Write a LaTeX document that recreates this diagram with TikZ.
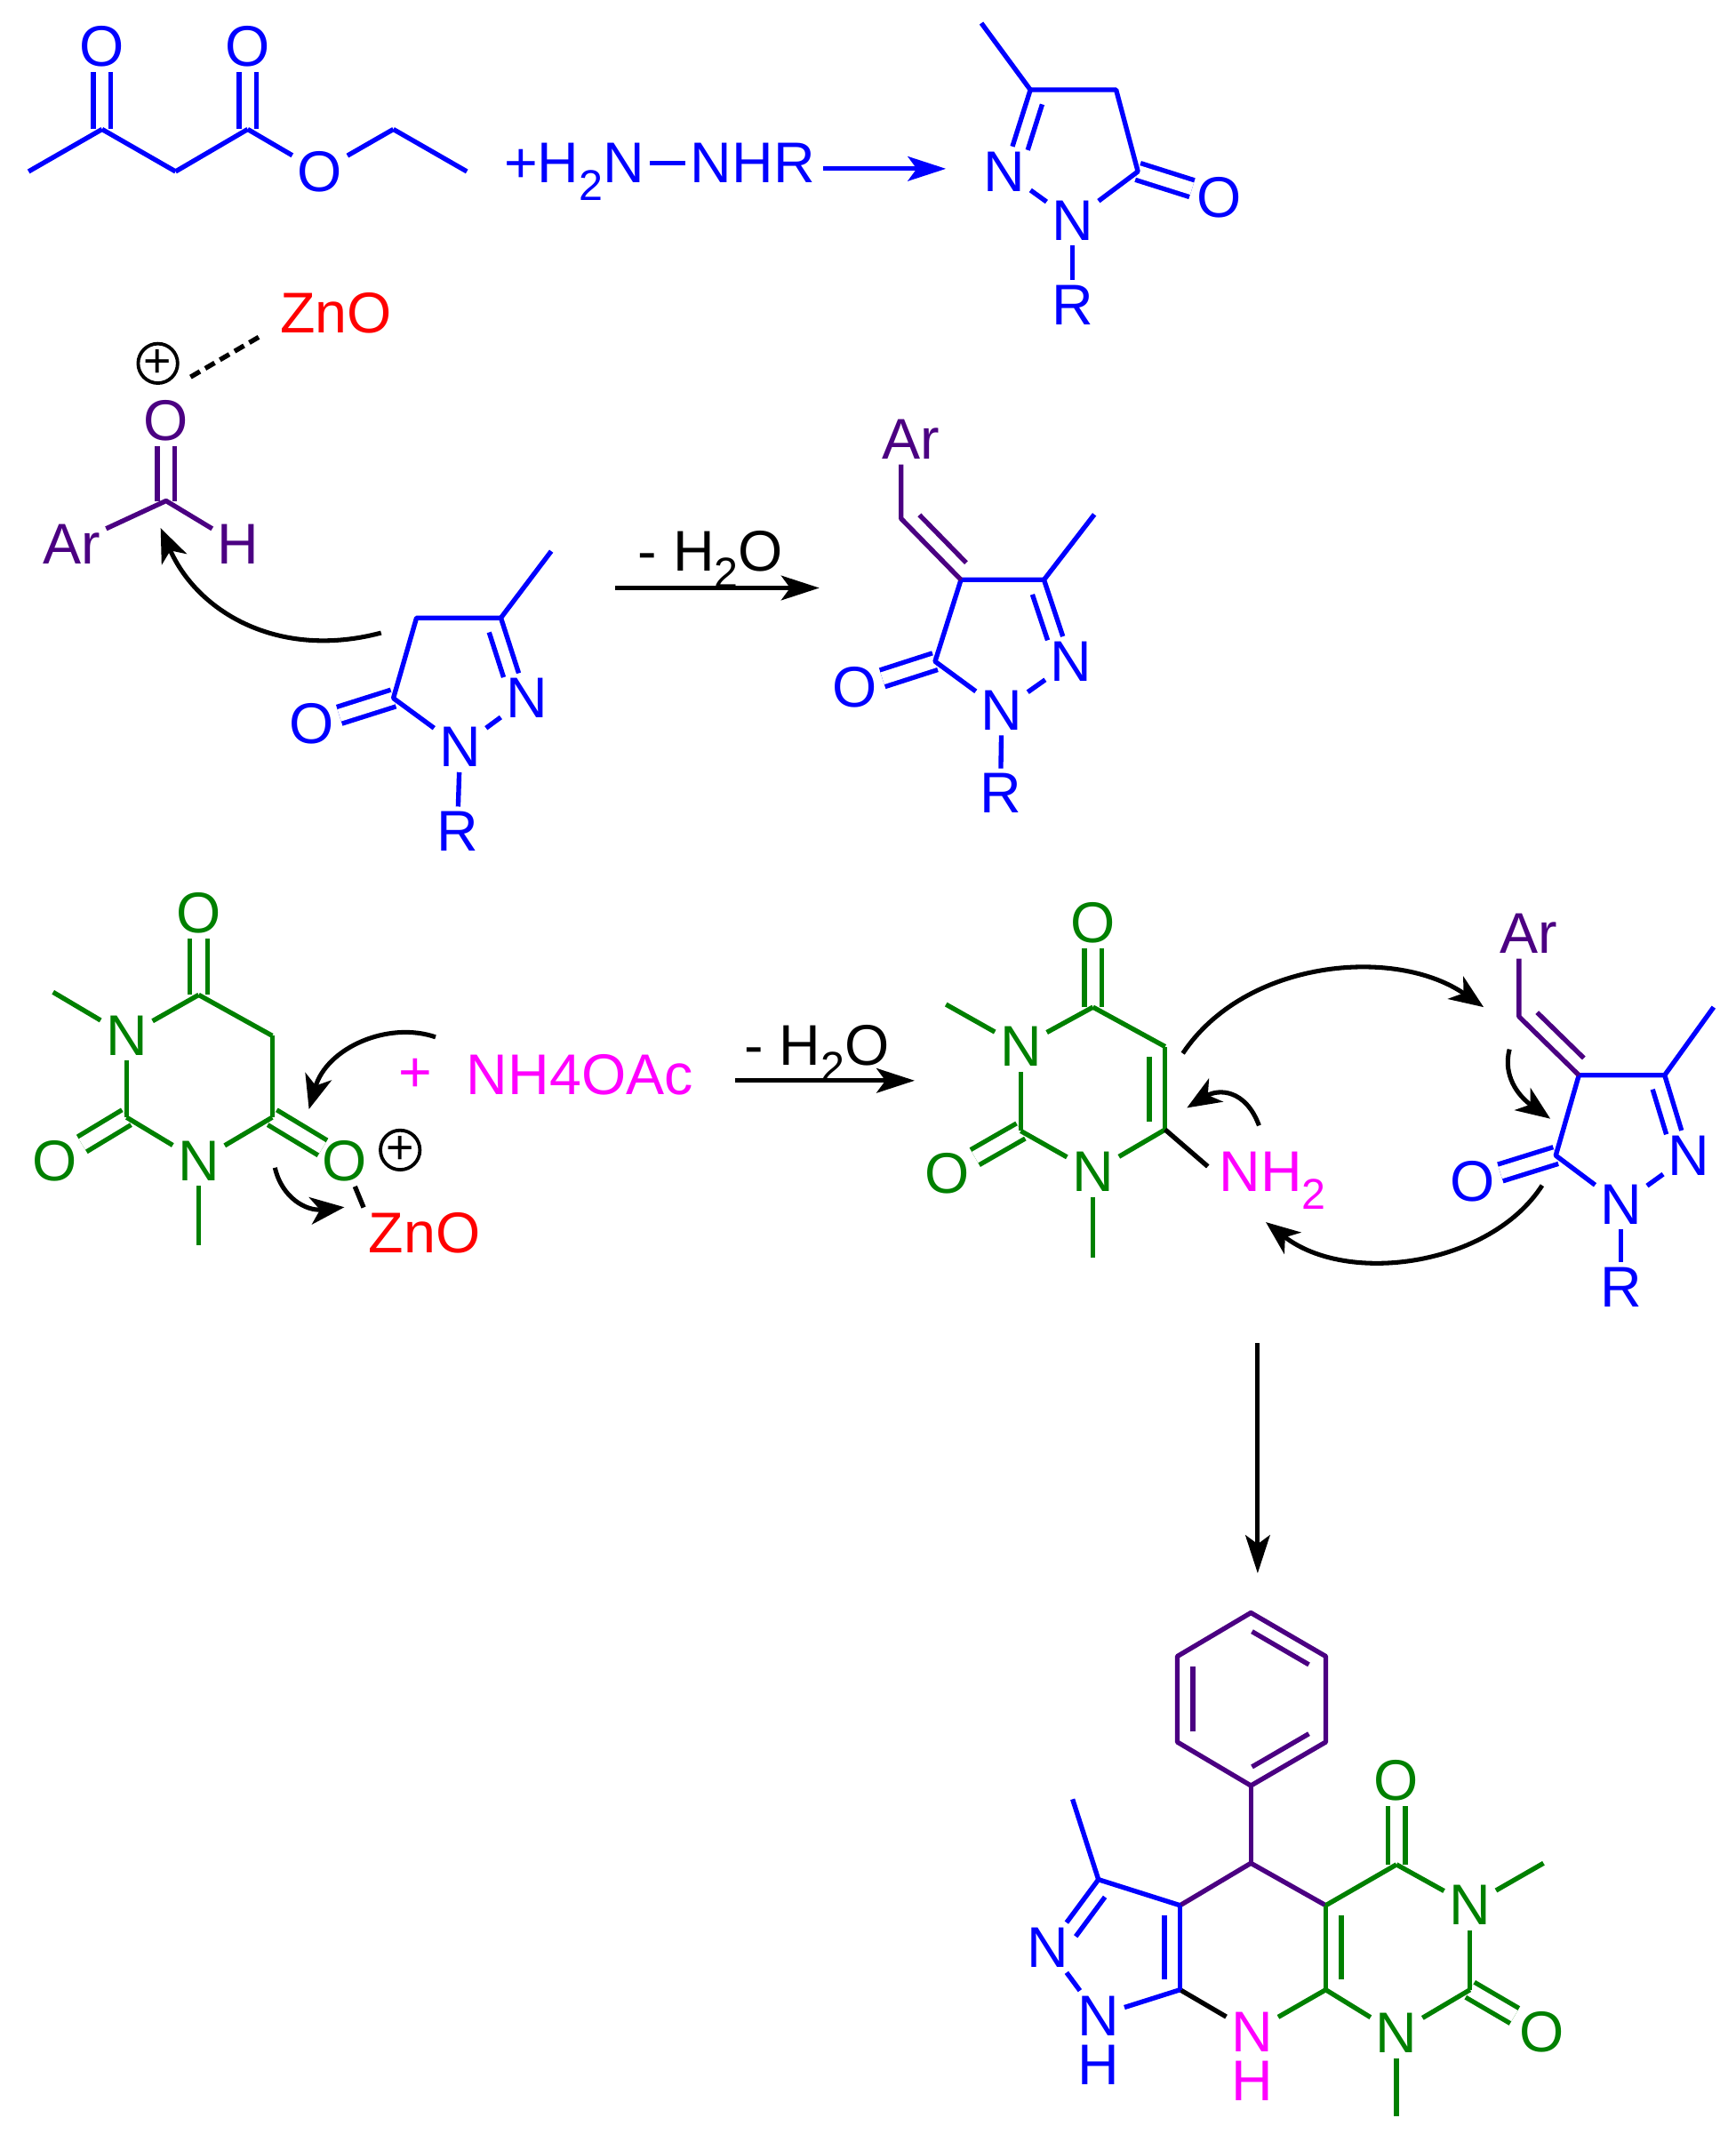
\documentclass[tikz,border=0pt]{standalone}
\usepackage{fontspec}
\setmainfont{Liberation Sans}
\usetikzlibrary{calc,arrows.meta}
\definecolor{chemgreen}{HTML}{008000}
\definecolor{chempurple}{HTML}{4B0082}
\definecolor{chemmagenta}{HTML}{FF00FF}
\newcommand{\subtwo}{\smash{\raisebox{-0.3em}{\fontsize{18}{18}\selectfont 2}}}
\newcommand{\innerbond}[5]{\draw[bond,#1] ($(#2)!.12!(#3)!#4*0.23cm!90:(#3)$) -- ($(#2)!#5!(#3)!#4*0.23cm!90:(#3)$);}
\tikzset{
  atom/.style={inner sep=2pt,font=\fontsize{24}{24}\selectfont},
  lowatom/.style={atom,inner sep=0pt},
  bond/.style={line width=0.07cm,line join=round},
  dbond/.style={bond,double,double distance=0.185cm},
  reaction/.style={line width=0.066cm,-{Stealth[length=0.56cm,width=0.36cm,inset=0.13cm]}},
  pushing/.style={line width=0.066cm,-{Stealth[length=0.5cm,width=0.4cm,inset=0.14cm]}},
  charge/.style={circle,draw,line width=0.05cm,inner sep=0pt,minimum size=0.58cm,font=\fontsize{20}{20}\selectfont}
}
\begin{document}
\begin{tikzpicture}[x=0.02cm,y=-0.02cm]
\useasboundingbox (0,0) rectangle (1275,1568);
\foreach \n/\x/\y in {ea-me/21/126,ea-ca/75/95,ea-cb/129/126,ea-cc/182/95,ea-cd/289/95,ea-ce/343/126,
  p-me/721/17,p-c3/757/66,p-c4/820/66,p-c5/836/126,
  q-me/405/405,q-c3/368/454,q-c4/306/454,q-c5/289/513,
  r-me/804/378,r-c3/767/426,r-c4/706/426,r-c5/687/486,r-ch/662/381,
  s-me/1259/740,s-c3/1223/790,s-c4/1160/790,s-c5/1143/849,s-ch/1116/747,
  al-c/122/368,
  b-me1/39/729,b-c6/146/731,b-c2/93/821,b-c4/200/821,b-c5/200/761,b-me3/146/915,
  u-me1/695/738,u-c4/803/740,u-c2/750/831,u-c5/856/769,u-c6/856/830,u-me3/803/924,
  f-a/919/1185,f-b/974/1217,f-c/974/1280,f-d/919/1312,f-e/865/1280,f-f/865/1217,
  f-ch/919/1369,f-g/974/1400,f-h/1026/1370,f-i/1080/1462,f-j/974/1462,f-k/867/1462,f-l/867/1400,
  f-m/807/1381,f-me1/788/1322,f-me2/1134/1369,f-me3/1026/1555,
  da/140/277,db/193/246,
  a1s/605/124,a1e/695/124,a2s/452/432,a2e/602/432,a3s/540/794,a3e/672/794,a4s/924/987,a4e/924/1156,
  c1s/280/465,c1e/118/388,c2s/320/762,c2e/227/815,c3s/202/858,c3e/253/887,
  c4s/869/774,c4e/1090/740,c5s/925/827,c5e/872/814,c6s/1133/871,c6e/930/898,c7s/1109/771,c7e/1139/822}
  \coordinate (\n) at (\x,\y);
\foreach \n/\x/\y/\lab in {ea-o1/75/34/O,ea-o2/182/34/O,ea-o3/235/126/O,
  hy-r/553/120/NHR,
  p-n/738/126/N,p-n1/788/162/N,p-o/896/145/O,p-r/788/224/R,
  q-n/387/513/N,q-n1/338/549/N,q-o/229/532/O,q-r/336/611/R,
  r-n/787/486/N,r-n1/736/522/N,r-o/628/505/O,r-r/735/583/R,
  s-n/1241/849/N,s-n1/1191/885/N,s-o/1082/868/O,s-r/1191/946/R,
  f-n1/770/1431/N,f-n2/807/1481/N}
  \node[atom,text=blue] (\n) at (\x,\y) {\lab};
\node[lowatom,text=blue] (f-h2) at (807,1517) {H};
\node[atom,text=blue] (hy-n) at (422,120) {+H\subtwo N};
\foreach \n/\x/\y/\lab in {al-o/122/309/O,al-ar/53/400/Ar,al-h/175/400/H,r-ar/669/323/Ar,s-ar/1123/686/Ar}
  \node[atom,text=chempurple] (\n) at (\x,\y) {\lab};
\foreach \n/\x/\y/\lab in {b-o6/146/671/O,b-n1/93/761/N,b-o2/40/853/O,b-n3/146/853/N,b-o4/253/853/O,
  u-o4/803/678/O,u-n1/750/769/N,u-o2/696/862/O,u-n3/803/861/N,
  f-o1/1026/1308/O,f-n3/1080/1400/N,f-o2/1133/1493/O,f-n4/1026/1494/N}
  \node[atom,text=chemgreen] (\n) at (\x,\y) {\lab};
\foreach \n/\x/\y/\lab in {zn1/247/230/ZnO,zn2/312/906/ZnO}
  \node[atom,text=red] (\n) at (\x,\y) {\lab};
\node[atom,text=chemmagenta] (nh-plus) at (305,790) {+};
\node[atom,text=chemmagenta] (nh-ac) at (426,790) {NH4OAc};
\node[atom,text=chemmagenta] (u-nh2) at (935,861) {NH\subtwo};
\node[atom,text=chemmagenta] (f-n5) at (920,1493) {N};
\node[lowatom,text=chemmagenta] (f-h5) at (920,1529) {H};
\node[atom] (wa) at (522,405) {- H\subtwo O};
\node[atom] (wb) at (600,768) {- H\subtwo O};
\node[charge] (pa) at (116,267) {+};
\node[charge] (pb) at (294,845) {+};
\foreach \a/\b in {ea-ca/ea-o1,ea-cc/ea-o2}
  \draw[dbond,blue] (\a) -- (\b);
\foreach \a/\b in {ea-me/ea-ca,ea-ca/ea-cb,ea-cb/ea-cc,ea-cc/ea-o3,ea-o3/ea-cd,ea-cd/ea-ce,hy-n/hy-r}
  \draw[bond,blue] (\a) -- (\b);
\foreach \p/\s in {p/1,q/-1,r/-1,s/-1}{
  \draw[dbond,blue] (\p-c5) -- (\p-o);
  \innerbond{blue}{\p-c3}{\p-n}{\s}{.68}
  \draw[bond,blue] (\p-me) -- (\p-c3) -- (\p-n);
  \draw[bond,blue] (\p-n) -- (\p-n1);
  \draw[bond,blue] (\p-n1) -- (\p-c5) -- (\p-c4) -- (\p-c3);
  \draw[bond,blue] (\p-n1) -- (\p-r);
}
\foreach \p in {r,s}{
  \draw[bond,chempurple] (\p-ar.south -| \p-ch) -- (\p-ch) -- (\p-c4);
  \innerbond{chempurple}{\p-ch}{\p-c4}{1}{.9}
}
\draw[dbond,chempurple] (al-c) -- (al-o);
\draw[bond,chempurple] (al-ar) -- (al-c) -- (al-h);
\draw[bond,dash pattern=on 0.16cm off 0.09cm] (da) -- (db);
\draw[dbond,chemgreen] (b-c6) -- (b-o6);
\draw[dbond,chemgreen] (b-c2) -- (b-o2);
\draw[dbond,chemgreen,shorten >=-0.1cm] (b-c4) -- (b-o4);
\foreach \a/\b in {b-me1/b-n1,b-n1/b-c6,b-c6/b-c5,b-c5/b-c4,b-c4/b-n3,b-n3/b-c2,b-c2/b-n1,b-n3/b-me3}
  \draw[bond,chemgreen] (\a) -- (\b);
\draw[bond] (b-o4) -- (zn2.north west);
\draw[dbond,chemgreen] (u-c4) -- (u-o4);
\draw[dbond,chemgreen] (u-c2) -- (u-o2);
\innerbond{chemgreen}{u-c5}{u-c6}{-1}{.9}
\foreach \a/\b in {u-me1/u-n1,u-n1/u-c4,u-c4/u-c5,u-c5/u-c6,u-c6/u-n3,u-n3/u-c2,u-c2/u-n1,u-n3/u-me3}
  \draw[bond,chemgreen] (\a) -- (\b);
\draw[bond,shorten >=0.12cm] (u-c6) -- (u-nh2.west);
\draw[bond,chempurple] (f-a) -- (f-b) -- (f-c) -- (f-d) -- (f-e) -- (f-f) -- cycle;
\innerbond{chempurple}{f-a}{f-b}{-1}{.88}
\innerbond{chempurple}{f-c}{f-d}{-1}{.88}
\innerbond{chempurple}{f-e}{f-f}{-1}{.88}
\draw[bond,chempurple] (f-d) -- (f-ch);
\draw[bond,chempurple] (f-l) -- (f-ch) -- (f-g);
\draw[dbond,chemgreen] (f-h) -- (f-o1);
\draw[dbond,chemgreen] (f-i) -- (f-o2);
\innerbond{chemgreen}{f-g}{f-j}{1}{.88}
\foreach \a/\b in {f-g/f-h,f-h/f-n3,f-n3/f-me2,f-n3/f-i,f-i/f-n4,f-n4/f-me3,f-n4/f-j,f-j/f-g,f-j/f-n5}
  \draw[bond,chemgreen] (\a) -- (\b);
\draw[bond] (f-k) -- (f-n5);
\innerbond{blue}{f-l}{f-k}{-1}{.88}
\innerbond{blue}{f-m}{f-n1}{1}{.7}
\foreach \a/\b in {f-me1/f-m,f-m/f-l,f-l/f-k,f-k/f-n2,f-n2/f-n1,f-n1/f-m}
  \draw[bond,blue] (\a) -- (\b);
\draw[reaction,blue] (a1s) -- (a1e);
\draw[reaction] (a2s) -- (a2e);
\draw[reaction] (a3s) -- (a3e);
\draw[reaction] (a4s) -- (a4e);
\draw[pushing] (c1s) .. controls (205,485) and (145,450) .. (c1e);
\draw[pushing] (c2s) .. controls (285,750) and (240,770) .. (c2e);
\draw[pushing] (c3s) .. controls (207,880) and (225,890) .. (c3e);
\draw[pushing] (c4s) .. controls (915,705) and (1025,695) .. (c4e);
\draw[pushing] (c5s) .. controls (915,800) and (895,800) .. (c5e);
\draw[pushing] (c6s) .. controls (1095,930) and (990,945) .. (c6e);
\draw[pushing] (c7s) .. controls (1104,790) and (1115,805) .. (c7e);
\end{tikzpicture}
\end{document}
